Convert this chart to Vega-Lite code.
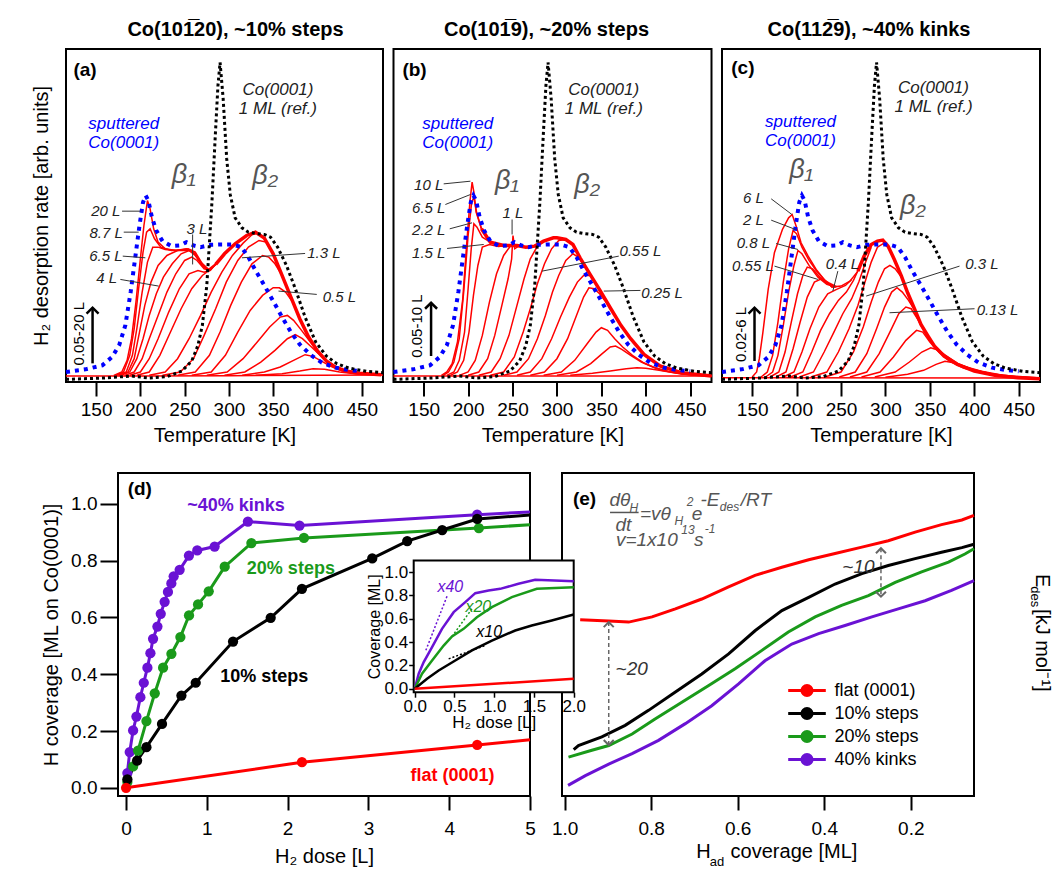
{
"$schema": "https://vega.github.io/schema/vega-lite/v6.json",
"padding": {"left": 30, "top": 19, "right": 4, "bottom": 4},
"background": "white",
"config": {"font": "Liberation Sans", "view": {"stroke": "black", "strokeWidth": 2},
  "axis": {"grid": false, "domain": false, "tickColor": "black", "tickWidth": 2, "labelColor": "black", "titleColor": "black", "titleFontWeight": "normal", "labelFontSize": 19, "titleFontSize": 20, "labelFlush": false, "labelOverlap": false}},
"datasets": {
"ref": [{"t":116,"y":0.8},{"t":160,"y":1.2},{"t":190,"y":1.8},{"t":210,"y":1.2},{"t":230,"y":1.6},{"t":247,"y":3.3},{"t":258,"y":6.3},{"t":265,"y":11},{"t":270,"y":17},{"t":275,"y":29},{"t":280.8,"y":54},{"t":284.6,"y":74},{"t":287.6,"y":89},{"t":290,"y":96},{"t":293.5,"y":85},{"t":297.5,"y":67},{"t":301.5,"y":56.3},{"t":307,"y":49.3},{"t":314.7,"y":46.3},{"t":322,"y":45},{"t":330,"y":44.6},{"t":340,"y":44.3},{"t":347,"y":43.5},{"t":355,"y":40.5},{"t":365,"y":35},{"t":375,"y":28},{"t":386,"y":19.5},{"t":398,"y":12},{"t":410,"y":7.8},{"t":422,"y":5.5},{"t":435,"y":4.2},{"t":455,"y":3.2},{"t":474,"y":2.8}],
"sput": [{"t":116,"y":3},{"t":138,"y":3.8},{"t":157,"y":5},{"t":168,"y":7.5},{"t":176,"y":11},{"t":183,"y":17},{"t":189,"y":27},{"t":194,"y":37},{"t":199,"y":47},{"t":203,"y":54},{"t":206,"y":56},{"t":209,"y":54.5},{"t":213,"y":49.5},{"t":218,"y":45.5},{"t":225,"y":42.3},{"t":235,"y":40.8},{"t":245,"y":41},{"t":252,"y":42},{"t":260,"y":41},{"t":268,"y":40.5},{"t":280,"y":41.2},{"t":292,"y":41.3},{"t":304,"y":41.3},{"t":314,"y":40.5},{"t":322,"y":37.5},{"t":330,"y":33.5},{"t":340,"y":29},{"t":350,"y":24.3},{"t":360,"y":19.5},{"t":370,"y":15},{"t":380,"y":11.3},{"t":392,"y":8.2},{"t":405,"y":5.8},{"t":420,"y":4.3},{"t":435,"y":3.6},{"t":450,"y":3.2}],
"a": [
{"c":0,"t":285,"y":35.3},{"c":0,"t":295,"y":38.5},{"c":0,"t":307,"y":41.5},{"c":0,"t":320,"y":44},{"c":0,"t":330,"y":45},{"c":0,"t":340,"y":43.2},{"c":0,"t":350,"y":38.5},{"c":0,"t":360,"y":32},{"c":0,"t":370,"y":25.5},{"c":0,"t":380,"y":19},{"c":0,"t":390,"y":13.5},{"c":0,"t":400,"y":9.3},{"c":0,"t":410,"y":6.3},{"c":0,"t":420,"y":4.5},{"c":0,"t":432,"y":3.3},{"c":0,"t":447,"y":2.6},{"c":0,"t":472,"y":2.2},
{"c":99,"t":116,"y":1.8},{"c":99,"t":200,"y":1.8},{"c":99,"t":300,"y":1.9},{"c":99,"t":474,"y":2.1},
{"c":1,"t":170,"y":2},{"c":1,"t":179,"y":3},{"c":1,"t":185,"y":6.5},{"c":1,"t":190,"y":13},{"c":1,"t":195,"y":24},{"c":1,"t":200,"y":37},{"c":1,"t":204,"y":47},{"c":1,"t":208,"y":54.5},{"c":1,"t":211,"y":52},{"c":1,"t":215,"y":46},{"c":1,"t":220,"y":42},{"c":1,"t":228,"y":40},{"c":1,"t":240,"y":39.5},{"c":1,"t":255,"y":39.5},{"c":1,"t":262,"y":38},{"c":1,"t":270,"y":35},{"c":1,"t":277,"y":33.3},{"c":1,"t":285,"y":35.3},
{"c":2,"t":172,"y":2},{"c":2,"t":181,"y":3},{"c":2,"t":188,"y":8},{"c":2,"t":193,"y":16},{"c":2,"t":198,"y":28},{"c":2,"t":203,"y":39},{"c":2,"t":207,"y":45},{"c":2,"t":211,"y":46},{"c":2,"t":216,"y":43},{"c":2,"t":223,"y":40.5},{"c":2,"t":235,"y":39.5},{"c":2,"t":250,"y":39.7},{"c":2,"t":258,"y":39.5},{"c":2,"t":265,"y":37},{"c":2,"t":272,"y":34.5},{"c":2,"t":277,"y":33.5},{"c":2,"t":285,"y":35.3},
{"c":3,"t":174,"y":2},{"c":3,"t":184,"y":3},{"c":3,"t":191,"y":8},{"c":3,"t":196,"y":16},{"c":3,"t":202,"y":27},{"c":3,"t":208,"y":36},{"c":3,"t":214,"y":40.5},{"c":3,"t":220,"y":40.5},{"c":3,"t":228,"y":39.8},{"c":3,"t":240,"y":39.5},{"c":3,"t":252,"y":40},{"c":3,"t":260,"y":39},{"c":3,"t":268,"y":36},{"c":3,"t":277,"y":33.8},{"c":3,"t":285,"y":35.5},
{"c":4,"t":176,"y":2},{"c":4,"t":186,"y":3},{"c":4,"t":193,"y":7},{"c":4,"t":199,"y":15},{"c":4,"t":205,"y":23},{"c":4,"t":212,"y":30},{"c":4,"t":220,"y":35},{"c":4,"t":230,"y":38},{"c":4,"t":242,"y":39.5},{"c":4,"t":254,"y":40},{"c":4,"t":262,"y":39},{"c":4,"t":270,"y":35.5},{"c":4,"t":278,"y":33.5},{"c":4,"t":286,"y":35.5},
{"c":5,"t":178,"y":2},{"c":5,"t":188,"y":3},{"c":5,"t":196,"y":7},{"c":5,"t":203,"y":13},{"c":5,"t":210,"y":20},{"c":5,"t":218,"y":26.5},{"c":5,"t":226,"y":31.5},{"c":5,"t":236,"y":35.5},{"c":5,"t":246,"y":38.5},{"c":5,"t":255,"y":39.5},{"c":5,"t":262,"y":38.5},{"c":5,"t":270,"y":35},{"c":5,"t":278,"y":33.5},
{"c":6,"t":182,"y":2},{"c":6,"t":193,"y":3},{"c":6,"t":202,"y":7},{"c":6,"t":210,"y":13},{"c":6,"t":220,"y":20},{"c":6,"t":230,"y":27},{"c":6,"t":240,"y":32.5},{"c":6,"t":250,"y":36.5},{"c":6,"t":258,"y":37.5},{"c":6,"t":264,"y":36.5},{"c":6,"t":272,"y":34},{"c":6,"t":280,"y":33.5},
{"c":7,"t":188,"y":2},{"c":7,"t":200,"y":3},{"c":7,"t":210,"y":7},{"c":7,"t":220,"y":13},{"c":7,"t":232,"y":21},{"c":7,"t":244,"y":28},{"c":7,"t":255,"y":32.5},{"c":7,"t":265,"y":33.5},{"c":7,"t":272,"y":33},{"c":7,"t":280,"y":33.8},{"c":7,"t":290,"y":37},
{"c":8,"t":196,"y":2},{"c":8,"t":210,"y":3},{"c":8,"t":222,"y":8},{"c":8,"t":234,"y":15},{"c":8,"t":246,"y":22},{"c":8,"t":258,"y":28},{"c":8,"t":270,"y":32},{"c":8,"t":280,"y":34},{"c":8,"t":290,"y":37},{"c":8,"t":300,"y":40},{"c":8,"t":310,"y":42.2},
{"c":9,"t":210,"y":2},{"c":9,"t":228,"y":3},{"c":9,"t":242,"y":7},{"c":9,"t":255,"y":13},{"c":9,"t":268,"y":20},{"c":9,"t":280,"y":27},{"c":9,"t":292,"y":33},{"c":9,"t":304,"y":38},{"c":9,"t":316,"y":41.7},{"c":9,"t":326,"y":44.2},{"c":9,"t":333,"y":44.8},{"c":9,"t":340,"y":43.2},
{"c":10,"t":225,"y":2},{"c":10,"t":245,"y":3},{"c":10,"t":260,"y":7},{"c":10,"t":272,"y":14},{"c":10,"t":285,"y":22},{"c":10,"t":297,"y":30},{"c":10,"t":310,"y":36.5},{"c":10,"t":322,"y":40.5},{"c":10,"t":334,"y":42.5},{"c":10,"t":342,"y":42},{"c":10,"t":350,"y":38.5},
{"c":11,"t":242,"y":2},{"c":11,"t":262,"y":3},{"c":11,"t":278,"y":8},{"c":11,"t":290,"y":15},{"c":11,"t":302,"y":23},{"c":11,"t":314,"y":30},{"c":11,"t":326,"y":35.5},{"c":11,"t":338,"y":38},{"c":11,"t":345,"y":37.5},{"c":11,"t":352,"y":35.5},{"c":11,"t":360,"y":32},
{"c":12,"t":258,"y":2},{"c":12,"t":280,"y":3},{"c":12,"t":296,"y":8},{"c":12,"t":310,"y":15},{"c":12,"t":324,"y":21.5},{"c":12,"t":338,"y":26},{"c":12,"t":350,"y":28.3},{"c":12,"t":357,"y":28.3},{"c":12,"t":364,"y":27},{"c":12,"t":372,"y":24},
{"c":13,"t":275,"y":2},{"c":13,"t":298,"y":3},{"c":13,"t":316,"y":7},{"c":13,"t":332,"y":12},{"c":13,"t":346,"y":16.5},{"c":13,"t":358,"y":19.5},{"c":13,"t":366,"y":20},{"c":13,"t":373,"y":18.5},{"c":13,"t":382,"y":15.5},{"c":13,"t":392,"y":12},{"c":13,"t":400,"y":9.3},
{"c":14,"t":295,"y":2},{"c":14,"t":318,"y":3},{"c":14,"t":336,"y":6},{"c":14,"t":352,"y":9.5},{"c":14,"t":366,"y":13},{"c":14,"t":375,"y":14.2},{"c":14,"t":383,"y":13},{"c":14,"t":392,"y":10.8},{"c":14,"t":402,"y":8.3},{"c":14,"t":412,"y":5.8},{"c":14,"t":420,"y":4.5},
{"c":15,"t":315,"y":2},{"c":15,"t":340,"y":3},{"c":15,"t":358,"y":4.5},{"c":15,"t":373,"y":6.5},{"c":15,"t":386,"y":8.2},{"c":15,"t":395,"y":7.7},{"c":15,"t":405,"y":6.2},{"c":15,"t":415,"y":4.7},{"c":15,"t":427,"y":3.4},{"c":15,"t":442,"y":2.6},{"c":15,"t":472,"y":2.2},
{"c":16,"t":330,"y":2},{"c":16,"t":360,"y":2.5},{"c":16,"t":380,"y":3.3},{"c":16,"t":395,"y":4},{"c":16,"t":408,"y":3.8},{"c":16,"t":425,"y":3},{"c":16,"t":445,"y":2.4},{"c":16,"t":472,"y":2.2}
],
"b": [
{"c":0,"t":215,"y":46},{"c":0,"t":225,"y":42},{"c":0,"t":240,"y":41},{"c":0,"t":255,"y":41},{"c":0,"t":265,"y":40.5},{"c":0,"t":275,"y":40.8},{"c":0,"t":285,"y":42.3},{"c":0,"t":296,"y":43.3},{"c":0,"t":300,"y":43.3},{"c":0,"t":310,"y":42.8},{"c":0,"t":318,"y":41.3},{"c":0,"t":326,"y":37.3},{"c":0,"t":338,"y":32},{"c":0,"t":349,"y":27.3},{"c":0,"t":360,"y":22.3},{"c":0,"t":372,"y":17},{"c":0,"t":383,"y":13},{"c":0,"t":398,"y":8.3},{"c":0,"t":416,"y":4.8},{"c":0,"t":440,"y":2.8},{"c":0,"t":474,"y":1.8},
{"c":99,"t":116,"y":1.8},{"c":99,"t":474,"y":1.8},
{"c":1,"t":170,"y":2},{"c":1,"t":176,"y":3},{"c":1,"t":182,"y":5.5},{"c":1,"t":188,"y":12},{"c":1,"t":194,"y":25},{"c":1,"t":198,"y":40},{"c":1,"t":202,"y":54},{"c":1,"t":204.5,"y":60},{"c":1,"t":206.5,"y":57},{"c":1,"t":209,"y":51},{"c":1,"t":215,"y":46},
{"c":2,"t":172,"y":2},{"c":2,"t":178,"y":3},{"c":2,"t":184,"y":6},{"c":2,"t":190,"y":13},{"c":2,"t":195,"y":27},{"c":2,"t":200,"y":44},{"c":2,"t":204,"y":54},{"c":2,"t":206.5,"y":55.5},{"c":2,"t":209.5,"y":51},{"c":2,"t":215,"y":46},
{"c":3,"t":176,"y":2},{"c":3,"t":184,"y":3},{"c":3,"t":190,"y":6.5},{"c":3,"t":196,"y":15},{"c":3,"t":200,"y":28},{"c":3,"t":203.5,"y":40},{"c":3,"t":206.5,"y":47.5},{"c":3,"t":210,"y":46.5},{"c":3,"t":216,"y":43.5},{"c":3,"t":225,"y":42},
{"c":4,"t":180,"y":2},{"c":4,"t":188,"y":3},{"c":4,"t":195,"y":6.5},{"c":4,"t":201,"y":15},{"c":4,"t":206,"y":26},{"c":4,"t":211,"y":35},{"c":4,"t":216,"y":40.5},{"c":4,"t":224,"y":41.3},{"c":4,"t":234,"y":40.7},{"c":4,"t":245,"y":41},
{"c":5,"t":190,"y":2},{"c":5,"t":200,"y":3},{"c":5,"t":208,"y":6.5},{"c":5,"t":216,"y":14},{"c":5,"t":224,"y":24},{"c":5,"t":232,"y":32.5},{"c":5,"t":240,"y":38},{"c":5,"t":248,"y":41},
{"c":6,"t":200,"y":2},{"c":6,"t":212,"y":3},{"c":6,"t":222,"y":7},{"c":6,"t":230,"y":14},{"c":6,"t":238,"y":23},{"c":6,"t":245,"y":31},{"c":6,"t":249,"y":37},{"c":6,"t":250.5,"y":44},{"c":6,"t":252.5,"y":40},{"c":6,"t":258,"y":41},{"c":6,"t":265,"y":40.5},
{"c":7,"t":212,"y":2},{"c":7,"t":226,"y":3},{"c":7,"t":236,"y":7},{"c":7,"t":246,"y":14},{"c":7,"t":255,"y":23},{"c":7,"t":263,"y":31},{"c":7,"t":270,"y":37},{"c":7,"t":277,"y":40.3},{"c":7,"t":285,"y":42.3},
{"c":8,"t":225,"y":2},{"c":8,"t":240,"y":3},{"c":8,"t":252,"y":7.5},{"c":8,"t":262,"y":15},{"c":8,"t":270,"y":22},{"c":8,"t":278,"y":29.5},{"c":8,"t":286,"y":35.5},{"c":8,"t":294,"y":40},{"c":8,"t":302,"y":42.5},{"c":8,"t":310,"y":42.8},
{"c":9,"t":240,"y":2},{"c":9,"t":255,"y":3},{"c":9,"t":268,"y":7},{"c":9,"t":278,"y":13},{"c":9,"t":287,"y":20},{"c":9,"t":295,"y":27},{"c":9,"t":302,"y":32},{"c":9,"t":310,"y":36.5},{"c":9,"t":318,"y":38.5},{"c":9,"t":324,"y":37.5},{"c":9,"t":332,"y":34.5},{"c":9,"t":338,"y":32},
{"c":10,"t":255,"y":2},{"c":10,"t":270,"y":3},{"c":10,"t":283,"y":7},{"c":10,"t":294,"y":13},{"c":10,"t":304,"y":19.5},{"c":10,"t":314,"y":25.5},{"c":10,"t":323,"y":30},{"c":10,"t":330,"y":32},{"c":10,"t":338,"y":32},
{"c":11,"t":270,"y":2},{"c":11,"t":286,"y":3},{"c":11,"t":300,"y":7},{"c":11,"t":312,"y":13},{"c":11,"t":322,"y":20},{"c":11,"t":330,"y":25.5},{"c":11,"t":336,"y":28.3},{"c":11,"t":342,"y":28},{"c":11,"t":348,"y":26.5},{"c":11,"t":354,"y":24.5},{"c":11,"t":360,"y":22.3},
{"c":12,"t":285,"y":2},{"c":12,"t":305,"y":3},{"c":12,"t":320,"y":6.5},{"c":12,"t":334,"y":11.5},{"c":12,"t":344,"y":15},{"c":12,"t":350,"y":16.3},{"c":12,"t":357,"y":15.5},{"c":12,"t":365,"y":13},{"c":12,"t":374,"y":10.5},{"c":12,"t":385,"y":8},{"c":12,"t":398,"y":5.7},{"c":12,"t":416,"y":3.6},{"c":12,"t":440,"y":2.4},{"c":12,"t":474,"y":1.8},
{"c":13,"t":300,"y":2},{"c":13,"t":322,"y":3},{"c":13,"t":338,"y":5.5},{"c":13,"t":350,"y":8.3},{"c":13,"t":360,"y":10.5},{"c":13,"t":366,"y":10.8},{"c":13,"t":373,"y":9.8},{"c":13,"t":383,"y":8},{"c":13,"t":395,"y":6},{"c":13,"t":408,"y":4.5},{"c":13,"t":425,"y":3.2},{"c":13,"t":450,"y":2.2},{"c":13,"t":474,"y":1.8},
{"c":14,"t":315,"y":2},{"c":14,"t":340,"y":2.6},{"c":14,"t":360,"y":3.3},{"c":14,"t":378,"y":4},{"c":14,"t":390,"y":4.3},{"c":14,"t":400,"y":4.1},{"c":14,"t":415,"y":3.5},{"c":14,"t":435,"y":2.6},{"c":14,"t":474,"y":1.8}
],
"c": [
{"c":0,"t":269,"y":33.3},{"c":0,"t":276,"y":37.8},{"c":0,"t":284,"y":41.3},{"c":0,"t":291,"y":42.3},{"c":0,"t":297,"y":42.6},{"c":0,"t":303,"y":40.8},{"c":0,"t":310,"y":36.8},{"c":0,"t":318,"y":31.8},{"c":0,"t":325,"y":26.8},{"c":0,"t":333,"y":21.8},{"c":0,"t":340,"y":17.3},{"c":0,"t":348,"y":13.8},{"c":0,"t":355,"y":10.8},{"c":0,"t":366,"y":7.8},{"c":0,"t":381,"y":5.3},{"c":0,"t":400,"y":3.3},{"c":0,"t":423,"y":2},{"c":0,"t":449,"y":1.3},{"c":0,"t":474,"y":1},
{"c":99,"t":116,"y":1.3},{"c":99,"t":474,"y":1.2},
{"c":1,"t":150,"y":1.5},{"c":1,"t":155,"y":3},{"c":1,"t":158,"y":7},{"c":1,"t":162,"y":14.8},{"c":1,"t":168,"y":27.8},{"c":1,"t":175,"y":38.8},{"c":1,"t":184,"y":45.8},{"c":1,"t":191,"y":49.3},{"c":1,"t":195,"y":50.3},{"c":1,"t":199.5,"y":46.8},{"c":1,"t":205,"y":41.8},{"c":1,"t":213,"y":37.8},{"c":1,"t":222,"y":33.8},{"c":1,"t":231,"y":30.8},{"c":1,"t":240,"y":28.5},{"c":1,"t":250,"y":28.8},{"c":1,"t":260,"y":30.3},{"c":1,"t":269,"y":33.3},
{"c":2,"t":160,"y":1.5},{"c":2,"t":167,"y":3},{"c":2,"t":173,"y":8},{"c":2,"t":179,"y":18},{"c":2,"t":185,"y":30},{"c":2,"t":191,"y":40},{"c":2,"t":196,"y":45.5},{"c":2,"t":200,"y":44.5},{"c":2,"t":206,"y":40.5},{"c":2,"t":214,"y":36.5},{"c":2,"t":222,"y":33.5},{"c":2,"t":231,"y":30.8},{"c":2,"t":240,"y":28.5},
{"c":3,"t":165,"y":1.5},{"c":3,"t":173,"y":3},{"c":3,"t":179,"y":8},{"c":3,"t":185,"y":17},{"c":3,"t":191,"y":27},{"c":3,"t":197,"y":35},{"c":3,"t":201.5,"y":39.5},{"c":3,"t":206,"y":38.5},{"c":3,"t":214,"y":35},{"c":3,"t":224,"y":31.5},{"c":3,"t":234,"y":29.3},{"c":3,"t":244,"y":28.5},
{"c":4,"t":170,"y":1.5},{"c":4,"t":180,"y":3},{"c":4,"t":187,"y":9},{"c":4,"t":194,"y":18},{"c":4,"t":201,"y":26.5},{"c":4,"t":207,"y":32},{"c":4,"t":212,"y":34.5},{"c":4,"t":218,"y":34},{"c":4,"t":226,"y":31.5},{"c":4,"t":235,"y":29.5},{"c":4,"t":244,"y":28.5},
{"c":5,"t":177,"y":1.5},{"c":5,"t":188,"y":3},{"c":5,"t":196,"y":10},{"c":5,"t":204,"y":18},{"c":5,"t":212,"y":25.5},{"c":5,"t":220,"y":30},{"c":5,"t":228,"y":31},{"c":5,"t":236,"y":29.8},{"c":5,"t":245,"y":28.6},
{"c":6,"t":185,"y":1.5},{"c":6,"t":197,"y":3},{"c":6,"t":206,"y":9},{"c":6,"t":215,"y":16},{"c":6,"t":225,"y":22.5},{"c":6,"t":235,"y":26.5},{"c":6,"t":245,"y":27.8},{"c":6,"t":255,"y":29},{"c":6,"t":262,"y":30.8},
{"c":7,"t":193,"y":1.5},{"c":7,"t":207,"y":3},{"c":7,"t":217,"y":9},{"c":7,"t":227,"y":15.5},{"c":7,"t":237,"y":20.5},{"c":7,"t":247,"y":24.5},{"c":7,"t":256,"y":27},{"c":7,"t":264,"y":30.5},{"c":7,"t":270,"y":34},
{"c":8,"t":203,"y":1.5},{"c":8,"t":219,"y":3},{"c":8,"t":231,"y":9},{"c":8,"t":242,"y":15},{"c":8,"t":252,"y":20.5},{"c":8,"t":262,"y":25},{"c":8,"t":270,"y":30},{"c":8,"t":277,"y":35.5},{"c":8,"t":284,"y":40.5},
{"c":9,"t":216,"y":1.5},{"c":9,"t":234,"y":3},{"c":9,"t":247,"y":9},{"c":9,"t":259,"y":16},{"c":9,"t":269,"y":23},{"c":9,"t":277,"y":30},{"c":9,"t":284,"y":36},{"c":9,"t":291,"y":40.5},{"c":9,"t":297,"y":41.5},{"c":9,"t":303,"y":40.5},
{"c":10,"t":232,"y":1.5},{"c":10,"t":250,"y":3},{"c":10,"t":264,"y":9},{"c":10,"t":275,"y":16.5},{"c":10,"t":284,"y":24},{"c":10,"t":292,"y":30},{"c":10,"t":299,"y":34},{"c":10,"t":305,"y":35},{"c":10,"t":311,"y":34},{"c":10,"t":318,"y":31.5},
{"c":11,"t":248,"y":1.5},{"c":11,"t":266,"y":3},{"c":11,"t":279,"y":8.5},{"c":11,"t":290,"y":16},{"c":11,"t":299,"y":22.5},{"c":11,"t":307,"y":27},{"c":11,"t":313,"y":28.3},{"c":11,"t":319,"y":27},{"c":11,"t":326,"y":24.5},{"c":11,"t":333,"y":21.5},
{"c":12,"t":260,"y":1.5},{"c":12,"t":279,"y":3},{"c":12,"t":293,"y":8.5},{"c":12,"t":305,"y":15},{"c":12,"t":315,"y":20.5},{"c":12,"t":323,"y":22.5},{"c":12,"t":329,"y":22},{"c":12,"t":336,"y":19},{"c":12,"t":343,"y":15.5},{"c":12,"t":350,"y":12.5},
{"c":13,"t":273,"y":1.5},{"c":13,"t":294,"y":3},{"c":13,"t":309,"y":7.5},{"c":13,"t":323,"y":12.5},{"c":13,"t":335,"y":15.5},{"c":13,"t":342,"y":15},{"c":13,"t":350,"y":12},{"c":13,"t":360,"y":9},{"c":13,"t":372,"y":6.3},{"c":13,"t":388,"y":4.2},{"c":13,"t":410,"y":2.6},{"c":13,"t":440,"y":1.6},{"c":13,"t":474,"y":1.1},
{"c":14,"t":288,"y":1.5},{"c":14,"t":311,"y":3},{"c":14,"t":327,"y":6},{"c":14,"t":341,"y":9},{"c":14,"t":351,"y":10.3},{"c":14,"t":359,"y":9.6},{"c":14,"t":369,"y":7.8},{"c":14,"t":381,"y":5.6},{"c":14,"t":397,"y":3.9},{"c":14,"t":420,"y":2.4},{"c":14,"t":450,"y":1.5},{"c":14,"t":474,"y":1.1},
{"c":15,"t":300,"y":1.4},{"c":15,"t":325,"y":2.3},{"c":15,"t":343,"y":3.5},{"c":15,"t":357,"y":5.3},{"c":15,"t":367,"y":6.2},{"c":15,"t":377,"y":5.8},{"c":15,"t":390,"y":4.6},{"c":15,"t":408,"y":3.2},{"c":15,"t":432,"y":2},{"c":15,"t":474,"y":1.2}
],
"aL": [{"t":161,"y":51.3,"s":"20 L"},{"t":161.3,"y":44.6,"s":"8.7 L"},{"t":161,"y":37.8,"s":"6.5 L"},{"t":161.8,"y":31.1,"s":"4 L"},{"t":263.9,"y":45.8,"s":"3 L"},{"t":407.3,"y":38.6,"s":"1.3 L"},{"t":424.7,"y":25.5,"s":"0.5 L"}],
"aLd": [{"t":179.3,"y":51.3,"t2":200,"y2":51.3},{"t":181.2,"y":45,"t2":198.1,"y2":45},{"t":180.1,"y":37.8,"t2":205.6,"y2":37.3},{"t":177.4,"y":30.8,"t2":220.7,"y2":28.8},{"t":259,"y":44.3,"t2":259,"y2":35.3},{"t":386,"y":38.6,"t2":314.7,"y2":37.3},{"t":399.2,"y":26.3,"t2":356,"y2":27.3}],
"aN": [{"t":137.5,"y":93.8,"s":"(a)","k":"tag"},{"t":355.3,"y":87.8,"s":"Co(0001)","k":"ref"},{"t":355.3,"y":82.1,"s":"1 ML (ref.)","k":"ref"},{"t":181.2,"y":77.5,"s":"sputtered","k":"sput"},{"t":181.2,"y":71.8,"s":"Co(0001)","k":"sput"},{"t":248.9,"y":62.3,"s":"β₁","k":"beta"},{"t":341,"y":61.8,"s":"β₂","k":"beta"},{"t":131,"y":14.5,"s":"0.05-20 L","k":"arr"}],
"aA": [{"t":146,"y":22.3,"y2":5.6}],
"bL": [{"t":155.6,"y":59.1,"s":"10 L"},{"t":155.7,"y":52.3,"s":"6.5 L"},{"t":155.7,"y":45.5,"s":"2.2 L"},{"t":155.7,"y":38.6,"s":"1.5 L"},{"t":250.4,"y":50.8,"s":"1 L"},{"t":394,"y":39.3,"s":"0.55 L"},{"t":418.4,"y":26.6,"s":"0.25 L"}],
"bLd": [{"t":172.5,"y":59.5,"t2":202.6,"y2":60.3},{"t":174.4,"y":53.3,"t2":202.6,"y2":56.3},{"t":179.3,"y":46,"t2":204.4,"y2":47.8},{"t":176.3,"y":40.1,"t2":217.6,"y2":41.3},{"t":249.5,"y":48.8,"t2":249.5,"y2":44.3},{"t":369.6,"y":37.8,"t2":283.3,"y2":33.3},{"t":394,"y":27.5,"t2":352.7,"y2":27.3}],
"bN": [{"t":139.7,"y":93.8,"s":"(b)","k":"tag"},{"t":352.7,"y":87.8,"s":"Co(0001)","k":"ref"},{"t":352.7,"y":82.1,"s":"1 ML (ref.)","k":"ref"},{"t":188.3,"y":77.5,"s":"sputtered","k":"sput"},{"t":188.3,"y":71.8,"s":"Co(0001)","k":"sput"},{"t":243.8,"y":60.3,"s":"β₁","k":"beta"},{"t":334,"y":59.3,"s":"β₂","k":"beta"},{"t":142.5,"y":16.8,"s":"0.05-10 L","k":"arr"}],
"bA": [{"t":158.3,"y":23.8,"y2":7.8}],
"cL": [{"t":151.3,"y":55.3,"s":"6 L"},{"t":151.3,"y":48.6,"s":"2 L"},{"t":151.3,"y":41.6,"s":"0.8 L"},{"t":150.8,"y":34.8,"s":"0.55 L"},{"t":251.7,"y":35.3,"s":"0.4 L"},{"t":408.7,"y":35.3,"s":"0.3 L"},{"t":426.2,"y":21.6,"s":"0.13 L"}],
"cLd": [{"t":171.4,"y":55,"t2":194.7,"y2":50.3},{"t":171.4,"y":48.6,"t2":198.8,"y2":45.8},{"t":177,"y":41.6,"t2":201.4,"y2":39.8},{"t":175.1,"y":34.8,"t2":224,"y2":30.8},{"t":246.4,"y":33.3,"t2":240.8,"y2":27.3},{"t":383.4,"y":34.8,"t2":278.3,"y2":25.8},{"t":400.3,"y":22,"t2":304.6,"y2":20.8}],
"cN": [{"t":139.5,"y":94.3,"s":"(c)","k":"tag"},{"t":354.1,"y":88.3,"s":"Co(0001)","k":"ref"},{"t":354.1,"y":82.6,"s":"1 ML (ref.)","k":"ref"},{"t":204.4,"y":78,"s":"sputtered","k":"sput"},{"t":204.4,"y":72.3,"s":"Co(0001)","k":"sput"},{"t":205.2,"y":63.8,"s":"β₁","k":"beta"},{"t":330.9,"y":52.8,"s":"β₂","k":"beta"},{"t":137.6,"y":14.3,"s":"0.02-6 L","k":"arr"}],
"cA": [{"t":152.6,"y":22.3,"y2":6.3}],
"d": [
{"s":"40% kinks","x":0.016,"y":0.052},{"s":"40% kinks","x":0.045,"y":0.126},{"s":"40% kinks","x":0.087,"y":0.202},{"s":"40% kinks","x":0.128,"y":0.251},{"s":"40% kinks","x":0.177,"y":0.319},{"s":"40% kinks","x":0.219,"y":0.37},{"s":"40% kinks","x":0.264,"y":0.423},{"s":"40% kinks","x":0.301,"y":0.474},{"s":"40% kinks","x":0.334,"y":0.525},{"s":"40% kinks","x":0.388,"y":0.568},{"s":"40% kinks","x":0.429,"y":0.613},{"s":"40% kinks","x":0.477,"y":0.655},{"s":"40% kinks","x":0.518,"y":0.69},{"s":"40% kinks","x":0.56,"y":0.72},{"s":"40% kinks","x":0.589,"y":0.745},{"s":"40% kinks","x":0.663,"y":0.768},{"s":"40% kinks","x":0.778,"y":0.818},{"s":"40% kinks","x":0.881,"y":0.836},{"s":"40% kinks","x":1.096,"y":0.85},{"s":"40% kinks","x":1.508,"y":0.938},{"s":"40% kinks","x":2.147,"y":0.924},{"s":"40% kinks","x":4.346,"y":0.962},{"s":"40% kinks","x":5.0,"y":0.972},
{"s":"20% steps","x":0.016,"y":0.02},{"s":"20% steps","x":0.087,"y":0.075},{"s":"20% steps","x":0.148,"y":0.131},{"s":"20% steps","x":0.252,"y":0.235},{"s":"20% steps","x":0.355,"y":0.333},{"s":"20% steps","x":0.458,"y":0.423},{"s":"20% steps","x":0.561,"y":0.472},{"s":"20% steps","x":0.672,"y":0.531},{"s":"20% steps","x":0.779,"y":0.607},{"s":"20% steps","x":0.891,"y":0.646},{"s":"20% steps","x":1.023,"y":0.692},{"s":"20% steps","x":1.221,"y":0.779},{"s":"20% steps","x":1.551,"y":0.862},{"s":"20% steps","x":2.202,"y":0.88},{"s":"20% steps","x":4.367,"y":0.915},{"s":"20% steps","x":5.0,"y":0.927},
{"s":"10% steps","x":0.016,"y":0.03},{"s":"10% steps","x":0.136,"y":0.096},{"s":"10% steps","x":0.252,"y":0.143},{"s":"10% steps","x":0.445,"y":0.225},{"s":"10% steps","x":0.685,"y":0.325},{"s":"10% steps","x":0.862,"y":0.37},{"s":"10% steps","x":1.324,"y":0.515},{"s":"10% steps","x":1.79,"y":0.599},{"s":"10% steps","x":2.177,"y":0.701},{"s":"10% steps","x":3.047,"y":0.808},{"s":"10% steps","x":3.48,"y":0.869},{"s":"10% steps","x":3.913,"y":0.908},{"s":"10% steps","x":4.346,"y":0.947},{"s":"10% steps","x":5.0,"y":0.961},
{"s":"flat (0001)","x":0.0,"y":0.0},{"s":"flat (0001)","x":2.177,"y":0.09},{"s":"flat (0001)","x":4.346,"y":0.151},{"s":"flat (0001)","x":5.0,"y":0.169}
],
"dL": [{"s":"40% kinks","x":1.36,"y":0.994,"txt":"~40% kinks"},{"s":"20% steps","x":2.04,"y":0.771,"txt":"20% steps"},{"s":"10% steps","x":1.71,"y":0.389,"txt":"10% steps"},{"s":"flat (0001)","x":4.04,"y":0.043,"txt":"flat (0001)"}],
"e": [
{"s":"flat (0001)","x":0.964,"y":79.9},{"s":"flat (0001)","x":0.898,"y":79.7},{"s":"flat (0001)","x":0.852,"y":79.5},{"s":"flat (0001)","x":0.798,"y":80.4},{"s":"flat (0001)","x":0.744,"y":81.8},{"s":"flat (0001)","x":0.683,"y":83.5},{"s":"flat (0001)","x":0.621,"y":85.6},{"s":"flat (0001)","x":0.56,"y":87.6},{"s":"flat (0001)","x":0.498,"y":89.0},{"s":"flat (0001)","x":0.436,"y":90.3},{"s":"flat (0001)","x":0.375,"y":91.4},{"s":"flat (0001)","x":0.313,"y":92.5},{"s":"flat (0001)","x":0.252,"y":93.6},{"s":"flat (0001)","x":0.19,"y":95.1},{"s":"flat (0001)","x":0.129,"y":96.4},{"s":"flat (0001)","x":0.082,"y":97.2},{"s":"flat (0001)","x":0.054,"y":98.0},
{"s":"10% steps","x":0.979,"y":57.4},{"s":"10% steps","x":0.968,"y":58.1},{"s":"10% steps","x":0.914,"y":59.6},{"s":"10% steps","x":0.86,"y":61.6},{"s":"10% steps","x":0.806,"y":64.2},{"s":"10% steps","x":0.744,"y":67.4},{"s":"10% steps","x":0.683,"y":70.5},{"s":"10% steps","x":0.621,"y":74.0},{"s":"10% steps","x":0.56,"y":78.0},{"s":"10% steps","x":0.498,"y":81.5},{"s":"10% steps","x":0.436,"y":83.8},{"s":"10% steps","x":0.375,"y":86.1},{"s":"10% steps","x":0.313,"y":87.9},{"s":"10% steps","x":0.252,"y":89.3},{"s":"10% steps","x":0.19,"y":90.5},{"s":"10% steps","x":0.129,"y":91.6},{"s":"10% steps","x":0.082,"y":92.4},{"s":"10% steps","x":0.054,"y":93.0},
{"s":"20% steps","x":0.991,"y":56.1},{"s":"20% steps","x":0.937,"y":57.3},{"s":"20% steps","x":0.898,"y":58.1},{"s":"20% steps","x":0.844,"y":60.1},{"s":"20% steps","x":0.791,"y":62.7},{"s":"20% steps","x":0.729,"y":65.6},{"s":"20% steps","x":0.667,"y":68.5},{"s":"20% steps","x":0.606,"y":71.4},{"s":"20% steps","x":0.544,"y":74.6},{"s":"20% steps","x":0.483,"y":77.8},{"s":"20% steps","x":0.421,"y":80.4},{"s":"20% steps","x":0.36,"y":82.4},{"s":"20% steps","x":0.298,"y":84.1},{"s":"20% steps","x":0.236,"y":86.4},{"s":"20% steps","x":0.175,"y":88.2},{"s":"20% steps","x":0.113,"y":89.9},{"s":"20% steps","x":0.075,"y":91.3},{"s":"20% steps","x":0.054,"y":92.2},
{"s":"40% kinks","x":0.992,"y":51.2},{"s":"40% kinks","x":0.952,"y":52.9},{"s":"40% kinks","x":0.898,"y":54.9},{"s":"40% kinks","x":0.844,"y":56.7},{"s":"40% kinks","x":0.783,"y":59.0},{"s":"40% kinks","x":0.721,"y":61.9},{"s":"40% kinks","x":0.66,"y":65.0},{"s":"40% kinks","x":0.598,"y":68.8},{"s":"40% kinks","x":0.537,"y":72.8},{"s":"40% kinks","x":0.475,"y":75.7},{"s":"40% kinks","x":0.413,"y":77.5},{"s":"40% kinks","x":0.352,"y":78.9},{"s":"40% kinks","x":0.29,"y":80.4},{"s":"40% kinks","x":0.229,"y":81.8},{"s":"40% kinks","x":0.167,"y":83.2},{"s":"40% kinks","x":0.106,"y":85.0},{"s":"40% kinks","x":0.054,"y":86.7}
],
"eArr": [{"x":0.269,"y":92.3,"y2":83.9},{"x":0.898,"y":79.5,"y2":58.2}],
"eFr": [{"x":0.895,"x2":0.829,"y":98.5}],
"eT": [
{"x":0.954,"y":100.9,"txt":"(e)","k":"tag"},
{"x":0.872,"y":100.6,"txt":"dθ","k":"f"},{"x":0.840,"y":99.2,"txt":"H","k":"fs"},{"x":0.864,"y":96.4,"txt":"dt","k":"f"},{"x":0.790,"y":98.3,"txt":"=vθ","k":"f"},{"x":0.736,"y":97.1,"txt":"H","k":"fs"},{"x":0.710,"y":100.4,"txt":"2","k":"fs"},{"x":0.694,"y":98.3,"txt":"e","k":"f"},{"x":0.664,"y":100.6,"txt":"-E","k":"f"},{"x":0.619,"y":99.4,"txt":"des","k":"fs"},{"x":0.558,"y":100.6,"txt":"/RT","k":"f"},
{"x":0.810,"y":93.8,"txt":"v=1x10","k":"f"},{"x":0.715,"y":95.4,"txt":"13","k":"fs"},{"x":0.690,"y":93.7,"txt":"s","k":"f"},{"x":0.664,"y":95.6,"txt":"-1","k":"fs"},
{"x":0.321,"y":89.0,"txt":"~10","k":"ann"},{"x":0.845,"y":71.4,"txt":"~20","k":"ann"},
{"x":0.679,"y":39.6,"txt":"H","k":"ax"},{"x":0.648,"y":38.0,"txt":"ad","k":"axs"},{"x":0.470,"y":39.6,"txt":"coverage [ML]","k":"ax"},
{"x":-0.102,"y":86.7,"txt":"E","k":"axr"},{"x":-0.086,"y":83.9,"txt":"des","k":"axrs"},{"x":-0.102,"y":74.6,"txt":"[kJ mol⁻¹]","k":"axr"}
],
"ins": [
{"s":"40% kinks","x":0,"y":0},{"s":"40% kinks","x":0.05,"y":0.129},{"s":"40% kinks","x":0.113,"y":0.229},{"s":"40% kinks","x":0.218,"y":0.357},{"s":"40% kinks","x":0.343,"y":0.514},{"s":"40% kinks","x":0.49,"y":0.657},{"s":"40% kinks","x":0.636,"y":0.743},{"s":"40% kinks","x":0.762,"y":0.82},{"s":"40% kinks","x":0.929,"y":0.843},{"s":"40% kinks","x":1.075,"y":0.857},{"s":"40% kinks","x":1.305,"y":0.9},{"s":"40% kinks","x":1.515,"y":0.934},{"s":"40% kinks","x":2.0,"y":0.923},
{"s":"20% steps","x":0,"y":0},{"s":"20% steps","x":0.092,"y":0.129},{"s":"20% steps","x":0.218,"y":0.243},{"s":"20% steps","x":0.364,"y":0.371},{"s":"20% steps","x":0.469,"y":0.449},{"s":"20% steps","x":0.615,"y":0.514},{"s":"20% steps","x":0.782,"y":0.614},{"s":"20% steps","x":0.971,"y":0.7},{"s":"20% steps","x":1.222,"y":0.786},{"s":"20% steps","x":1.536,"y":0.857},{"s":"20% steps","x":2.0,"y":0.871},
{"s":"10% steps","x":0,"y":0},{"s":"10% steps","x":0.155,"y":0.086},{"s":"10% steps","x":0.301,"y":0.157},{"s":"10% steps","x":0.51,"y":0.243},{"s":"10% steps","x":0.72,"y":0.329},{"s":"10% steps","x":0.971,"y":0.414},{"s":"10% steps","x":1.264,"y":0.5},{"s":"10% steps","x":1.473,"y":0.543},{"s":"10% steps","x":1.724,"y":0.586},{"s":"10% steps","x":2.0,"y":0.637},
{"s":"flat (0001)","x":0,"y":0},{"s":"flat (0001)","x":2.0,"y":0.086}
],
"insD": [{"s":"40% kinks","x":0.14,"y":0.33},{"s":"40% kinks","x":0.41,"y":0.8},{"s":"20% steps","x":0.469,"y":0.449},{"s":"20% steps","x":0.72,"y":0.686},{"s":"10% steps","x":0.427,"y":0.257},{"s":"10% steps","x":0.887,"y":0.371}],
"insL": [{"s":"40% kinks","x":0.448,"y":0.871,"txt":"x40"},{"s":"20% steps","x":0.8,"y":0.7,"txt":"x20"},{"s":"10% steps","x":0.937,"y":0.486,"txt":"x10"}]
},
"spacing": 26,
"resolve": {"scale": {"color": "independent"}, "legend": {"color": "independent"}},
"vconcat": [
{"hconcat": [
{"width": 317, "height": 333,
 "title": {"text": "Co(101\u030520), ~10% steps", "fontSize": 20, "fontWeight": "bold", "offset": 9, "dx": 11, "frame": "group", "anchor": "middle"},
 "encoding": {"x": {"field": "t", "type": "quantitative", "scale": {"domain": [116, 474], "nice": false, "zero": false}, "axis": {"values": [150,200,250,300,350,400,450], "title": "Temperature [K]", "tickSize": 14, "labelPadding": 4, "titlePadding": 6}},
   "y": {"field": "y", "type": "quantitative", "scale": {"domain": [0, 100], "nice": false, "zero": false}, "axis": {"title": "H₂ desorption rate [arb. units]", "labels": false, "ticks": false, "titlePadding": 15}}},
 "layer": [
  {"data": {"name": "a"}, "transform": [{"filter": "datum.c>0"}], "mark": {"type": "line", "color": "#ff0000", "strokeWidth": 1.5}, "encoding": {"detail": {"field": "c", "type": "nominal"}}},
  {"data": {"name": "a"}, "transform": [{"filter": "datum.c==0"}], "mark": {"type": "line", "color": "#ff0000", "strokeWidth": 3.5}},
  {"data": {"name": "sput"}, "mark": {"type": "line", "color": "#0000ff", "strokeWidth": 4, "strokeDash": [4, 5]}},
  {"data": {"name": "ref"}, "mark": {"type": "line", "color": "#000000", "strokeWidth": 3, "strokeDash": [3, 3]}},
  {"data": {"name": "aLd"}, "mark": {"type": "rule", "color": "#333333", "strokeWidth": 1}, "encoding": {"x2": {"field": "t2"}, "y2": {"field": "y2"}}},
  {"data": {"name": "aL"}, "mark": {"type": "text", "fontSize": 15, "fontStyle": "italic", "color": "#222222"}, "encoding": {"text": {"field": "s"}}},
  {"data": {"name": "aN"}, "transform": [{"filter": "datum.k=='tag'"}], "mark": {"type": "text", "fontSize": 19, "fontWeight": "bold", "color": "#000000"}, "encoding": {"text": {"field": "s"}}},
  {"data": {"name": "aN"}, "transform": [{"filter": "datum.k=='ref'"}], "mark": {"type": "text", "fontSize": 17, "fontStyle": "italic", "color": "#222222"}, "encoding": {"text": {"field": "s"}}},
  {"data": {"name": "aN"}, "transform": [{"filter": "datum.k=='sput'"}], "mark": {"type": "text", "fontSize": 17, "fontStyle": "italic", "color": "#0000ff"}, "encoding": {"text": {"field": "s"}}},
  {"data": {"name": "aN"}, "transform": [{"filter": "datum.k=='beta'"}], "mark": {"type": "text", "fontSize": 27, "fontStyle": "italic", "color": "#555555"}, "encoding": {"text": {"field": "s"}}},
  {"data": {"name": "aN"}, "transform": [{"filter": "datum.k=='arr'"}], "mark": {"type": "text", "fontSize": 15, "angle": 270, "color": "#000000"}, "encoding": {"text": {"field": "s"}}},
  {"data": {"name": "aA"}, "mark": {"type": "rule", "color": "#000000", "strokeWidth": 2.5}, "encoding": {"y2": {"field": "y2"}}},
  {"data": {"name": "aA"}, "mark": {"type": "point", "shape": "M-1,1L0,0L1,1", "size": 144, "filled": false, "color": "#000000", "strokeWidth": 2.5, "opacity": 1}}
 ]},
{"width": 318, "height": 333,
 "title": {"text": "Co(101\u03059), ~20% steps", "fontSize": 20, "fontWeight": "bold", "offset": 9, "dx": -6, "frame": "group", "anchor": "middle"},
 "encoding": {"x": {"field": "t", "type": "quantitative", "scale": {"domain": [116, 474], "nice": false, "zero": false}, "axis": {"values": [150,200,250,300,350,400,450], "title": "Temperature [K]", "tickSize": 14, "labelPadding": 4, "titlePadding": 6}},
   "y": {"field": "y", "type": "quantitative", "scale": {"domain": [0, 100], "nice": false, "zero": false}, "axis": null}},
 "layer": [
  {"data": {"name": "b"}, "transform": [{"filter": "datum.c>0"}], "mark": {"type": "line", "color": "#ff0000", "strokeWidth": 1.5}, "encoding": {"detail": {"field": "c", "type": "nominal"}}},
  {"data": {"name": "b"}, "transform": [{"filter": "datum.c==0"}], "mark": {"type": "line", "color": "#ff0000", "strokeWidth": 3.5}},
  {"data": {"name": "sput"}, "mark": {"type": "line", "color": "#0000ff", "strokeWidth": 4, "strokeDash": [4, 5]}},
  {"data": {"name": "ref"}, "mark": {"type": "line", "color": "#000000", "strokeWidth": 3, "strokeDash": [3, 3]}},
  {"data": {"name": "bLd"}, "mark": {"type": "rule", "color": "#333333", "strokeWidth": 1}, "encoding": {"x2": {"field": "t2"}, "y2": {"field": "y2"}}},
  {"data": {"name": "bL"}, "mark": {"type": "text", "fontSize": 15, "fontStyle": "italic", "color": "#222222"}, "encoding": {"text": {"field": "s"}}},
  {"data": {"name": "bN"}, "transform": [{"filter": "datum.k=='tag'"}], "mark": {"type": "text", "fontSize": 19, "fontWeight": "bold", "color": "#000000"}, "encoding": {"text": {"field": "s"}}},
  {"data": {"name": "bN"}, "transform": [{"filter": "datum.k=='ref'"}], "mark": {"type": "text", "fontSize": 17, "fontStyle": "italic", "color": "#222222"}, "encoding": {"text": {"field": "s"}}},
  {"data": {"name": "bN"}, "transform": [{"filter": "datum.k=='sput'"}], "mark": {"type": "text", "fontSize": 17, "fontStyle": "italic", "color": "#0000ff"}, "encoding": {"text": {"field": "s"}}},
  {"data": {"name": "bN"}, "transform": [{"filter": "datum.k=='beta'"}], "mark": {"type": "text", "fontSize": 27, "fontStyle": "italic", "color": "#555555"}, "encoding": {"text": {"field": "s"}}},
  {"data": {"name": "bN"}, "transform": [{"filter": "datum.k=='arr'"}], "mark": {"type": "text", "fontSize": 15, "angle": 270, "color": "#000000"}, "encoding": {"text": {"field": "s"}}},
  {"data": {"name": "bA"}, "mark": {"type": "rule", "color": "#000000", "strokeWidth": 2.5}, "encoding": {"y2": {"field": "y2"}}},
  {"data": {"name": "bA"}, "mark": {"type": "point", "shape": "M-1,1L0,0L1,1", "size": 144, "filled": false, "color": "#000000", "strokeWidth": 2.5, "opacity": 1}}
 ]},
{"width": 318, "height": 333,
 "title": {"text": "Co(112\u03059), ~40% kinks", "fontSize": 20, "fontWeight": "bold", "offset": 9, "dx": -12, "frame": "group", "anchor": "middle"},
 "encoding": {"x": {"field": "t", "type": "quantitative", "scale": {"domain": [116, 474], "nice": false, "zero": false}, "axis": {"values": [150,200,250,300,350,400,450], "title": "Temperature [K]", "tickSize": 14, "labelPadding": 4, "titlePadding": 6}},
   "y": {"field": "y", "type": "quantitative", "scale": {"domain": [0, 100], "nice": false, "zero": false}, "axis": null}},
 "layer": [
  {"data": {"name": "c"}, "transform": [{"filter": "datum.c>0"}], "mark": {"type": "line", "color": "#ff0000", "strokeWidth": 1.5}, "encoding": {"detail": {"field": "c", "type": "nominal"}}},
  {"data": {"name": "c"}, "transform": [{"filter": "datum.c==0"}], "mark": {"type": "line", "color": "#ff0000", "strokeWidth": 3.5}},
  {"data": {"name": "sput"}, "mark": {"type": "line", "color": "#0000ff", "strokeWidth": 4, "strokeDash": [4, 5]}},
  {"data": {"name": "ref"}, "mark": {"type": "line", "color": "#000000", "strokeWidth": 3, "strokeDash": [3, 3]}},
  {"data": {"name": "cLd"}, "mark": {"type": "rule", "color": "#333333", "strokeWidth": 1}, "encoding": {"x2": {"field": "t2"}, "y2": {"field": "y2"}}},
  {"data": {"name": "cL"}, "mark": {"type": "text", "fontSize": 15, "fontStyle": "italic", "color": "#222222"}, "encoding": {"text": {"field": "s"}}},
  {"data": {"name": "cN"}, "transform": [{"filter": "datum.k=='tag'"}], "mark": {"type": "text", "fontSize": 19, "fontWeight": "bold", "color": "#000000"}, "encoding": {"text": {"field": "s"}}},
  {"data": {"name": "cN"}, "transform": [{"filter": "datum.k=='ref'"}], "mark": {"type": "text", "fontSize": 17, "fontStyle": "italic", "color": "#222222"}, "encoding": {"text": {"field": "s"}}},
  {"data": {"name": "cN"}, "transform": [{"filter": "datum.k=='sput'"}], "mark": {"type": "text", "fontSize": 17, "fontStyle": "italic", "color": "#0000ff"}, "encoding": {"text": {"field": "s"}}},
  {"data": {"name": "cN"}, "transform": [{"filter": "datum.k=='beta'"}], "mark": {"type": "text", "fontSize": 27, "fontStyle": "italic", "color": "#555555"}, "encoding": {"text": {"field": "s"}}},
  {"data": {"name": "cN"}, "transform": [{"filter": "datum.k=='arr'"}], "mark": {"type": "text", "fontSize": 15, "angle": 270, "color": "#000000"}, "encoding": {"text": {"field": "s"}}},
  {"data": {"name": "cA"}, "mark": {"type": "rule", "color": "#000000", "strokeWidth": 2.5}, "encoding": {"y2": {"field": "y2"}}},
  {"data": {"name": "cA"}, "mark": {"type": "point", "shape": "M-1,1L0,0L1,1", "size": 144, "filled": false, "color": "#000000", "strokeWidth": 2.5, "opacity": 1}}
 ]}
], "spacing": 10.5, "bounds": "flush"},
{"hconcat": [
{"width": 20, "height": 323, "view": {"stroke": null}, "data": {"values": [{}]}, "mark": {"type": "point", "opacity": 0}},
{"width": 412, "height": 323,
 "encoding": {
  "x": {"field": "x", "type": "quantitative", "scale": {"domain": [-0.1, 5.0], "nice": false, "zero": false}, "axis": {"values": [0,1,2,3,4,5], "format": "d", "title": "H₂ dose [L]", "tickSize": 14, "labelPadding": 9, "titlePadding": 8}},
  "y": {"field": "y", "type": "quantitative", "scale": {"domain": [-0.029, 1.109], "nice": false, "zero": false}, "axis": {"values": [0,0.2,0.4,0.6,0.8,1.0], "format": ".1f", "title": "H coverage [ML on Co(0001)]", "tickSize": 18, "labelPadding": 3, "titlePadding": 9}},
  "color": {"field": "s", "type": "nominal", "scale": {"domain": ["flat (0001)","10% steps","20% steps","40% kinks"], "range": ["#ff0000","#000000","#1a9a1a","#6a12d4"]}, "legend": null}},
 "layer": [
  {"data": {"name": "d"}, "mark": {"type": "line", "strokeWidth": 3}},
  {"data": {"name": "d"}, "transform": [{"filter": "datum.x<4.9"}], "mark": {"type": "point", "filled": true, "size": 105, "opacity": 1}},
  {"data": {"name": "dL"}, "mark": {"type": "text", "fontSize": 18, "fontWeight": "bold"}, "encoding": {"text": {"field": "txt"}}},
  {"data": {"values": [{"x": 0.17, "y": 1.052, "txt": "(d)"}]}, "mark": {"type": "text", "fontSize": 19, "fontWeight": "bold"}, "encoding": {"text": {"field": "txt"}, "color": {"value": "#000000"}}}
 ]},
{"width": 412, "height": 323,
 "resolve": {"scale": {"x": "independent", "y": "independent"}, "axis": {"x": "independent", "y": "independent"}},
 "layer": [
  {"encoding": {
    "x": {"field": "x", "type": "quantitative", "scale": {"domain": [0.054, 1.006], "reverse": true, "nice": false, "zero": false}, "axis": {"values": [1,0.8,0.6,0.4,0.2], "format": ".1f", "title": null, "tickSize": 14, "labelPadding": 9}},
    "y": {"field": "y", "type": "quantitative", "scale": {"domain": [49.36, 105.34], "nice": false, "zero": false}, "axis": {"orient": "right", "values": [50,60,70,80,90,100], "title": null, "tickSize": 14, "labelPadding": 4}}},
   "layer": [
    {"data": {"name": "e"}, "mark": {"type": "line", "strokeWidth": 3},
     "encoding": {"color": {"field": "s", "type": "nominal", "scale": {"domain": ["flat (0001)","10% steps","20% steps","40% kinks"], "range": ["#ff0000","#000000","#1a9a1a","#6a12d4"]},
      "legend": {"orient": "none", "legendX": 235.5, "legendY": 208, "title": null, "labelFontSize": 18, "labelColor": "#000000", "symbolType": "M-2.35,0H-0.63M0.63,0A0.63,0.63,0,1,1,-0.63,0A0.63,0.63,0,1,1,0.63,0ZM0.63,0H2.35", "symbolSize": 256, "symbolStrokeWidth": 3, "labelOffset": 18, "rowPadding": 0, "padding": 0}}}},
    {"data": {"name": "eArr"}, "mark": {"type": "rule", "color": "#666666", "strokeWidth": 1.5, "strokeDash": [4, 3]}, "encoding": {"y2": {"field": "y2"}}},
    {"data": {"name": "eArr"}, "mark": {"type": "point", "shape": "M-1,1L0,0L1,1", "size": 100, "filled": false, "color": "#666666", "strokeWidth": 2, "opacity": 1}},
    {"data": {"name": "eArr"}, "mark": {"type": "point", "shape": "M-1,-1L0,0L1,-1", "size": 100, "filled": false, "color": "#666666", "strokeWidth": 2, "opacity": 1}, "encoding": {"y": {"field": "y2", "type": "quantitative", "axis": null}}},
    {"data": {"name": "eFr"}, "mark": {"type": "rule", "color": "#555555", "strokeWidth": 1.5}, "encoding": {"x2": {"field": "x2"}}},
    {"data": {"name": "eT"}, "transform": [{"filter": "datum.k=='tag'"}], "mark": {"type": "text", "fontSize": 19, "fontWeight": "bold", "color": "#000000"}, "encoding": {"text": {"field": "txt"}}},
    {"data": {"name": "eT"}, "transform": [{"filter": "datum.k=='f'"}], "mark": {"type": "text", "fontSize": 19, "fontStyle": "italic", "color": "#555555"}, "encoding": {"text": {"field": "txt"}}},
    {"data": {"name": "eT"}, "transform": [{"filter": "datum.k=='fs'"}], "mark": {"type": "text", "fontSize": 12, "fontStyle": "italic", "color": "#555555"}, "encoding": {"text": {"field": "txt"}}},
    {"data": {"name": "eT"}, "transform": [{"filter": "datum.k=='ann'"}], "mark": {"type": "text", "fontSize": 19, "fontStyle": "italic", "color": "#333333"}, "encoding": {"text": {"field": "txt"}}},
    {"data": {"name": "eT"}, "transform": [{"filter": "datum.k=='ax'"}], "mark": {"type": "text", "fontSize": 20, "color": "#000000"}, "encoding": {"text": {"field": "txt"}}},
    {"data": {"name": "eT"}, "transform": [{"filter": "datum.k=='axs'"}], "mark": {"type": "text", "fontSize": 13, "color": "#000000"}, "encoding": {"text": {"field": "txt"}}},
    {"data": {"name": "eT"}, "transform": [{"filter": "datum.k=='axr'"}], "mark": {"type": "text", "fontSize": 20, "angle": 90, "color": "#000000"}, "encoding": {"text": {"field": "txt"}}},
    {"data": {"name": "eT"}, "transform": [{"filter": "datum.k=='axrs'"}], "mark": {"type": "text", "fontSize": 13, "angle": 90, "color": "#000000"}, "encoding": {"text": {"field": "txt"}}}
   ]},
  {"encoding": {
    "x": {"field": "x", "type": "quantitative", "scale": {"domain": [-0.013, 2.0], "range": [-148.3, 11.7], "nice": false, "zero": false}, "axis": {"orient": "bottom", "offset": -103.8, "values": [0,0.5,1,1.5,2], "format": ".1f", "tickSize": 5, "tickWidth": 1.5, "labelFontSize": 17, "labelPadding": 1, "title": "H₂ dose [L]", "titleFontSize": 17, "titlePadding": 0, "zindex": 1}},
    "y": {"field": "y", "type": "quantitative", "scale": {"domain": [-0.029, 1.1], "range": [219.2, 87.5], "nice": false, "zero": false}, "axis": {"orient": "left", "offset": 148.3, "values": [0,0.2,0.4,0.6,0.8,1], "format": ".1f", "tickSize": 5, "tickWidth": 1.5, "labelFontSize": 17, "labelPadding": 1, "title": "Coverage [ML]", "titleFontSize": 16, "titlePadding": 2, "zindex": 1}}},
   "layer": [
    {"data": {"values": [{"x": -0.013, "y": -0.029, "x2": 2.0, "y2": 1.1}]}, "mark": {"type": "rect", "fill": "white", "stroke": "black", "strokeWidth": 2}, "encoding": {"x2": {"field": "x2"}, "y2": {"field": "y2"}}},
    {"data": {"name": "ins"}, "mark": {"type": "line", "strokeWidth": 2.5}, "encoding": {"color": {"field": "s", "type": "nominal", "legend": null}}},
    {"data": {"name": "insD"}, "mark": {"type": "line", "strokeWidth": 1.5, "strokeDash": [2, 2]}, "encoding": {"color": {"field": "s", "type": "nominal", "legend": null}}},
    {"data": {"name": "insL"}, "mark": {"type": "text", "fontSize": 16, "fontStyle": "italic"}, "encoding": {"text": {"field": "txt"}, "color": {"field": "s", "type": "nominal", "legend": null}}}
   ]}
 ]}
], "spacing": 32, "bounds": "flush", "resolve": {"scale": {"color": "independent"}, "legend": {"color": "independent"}}}
]
}
